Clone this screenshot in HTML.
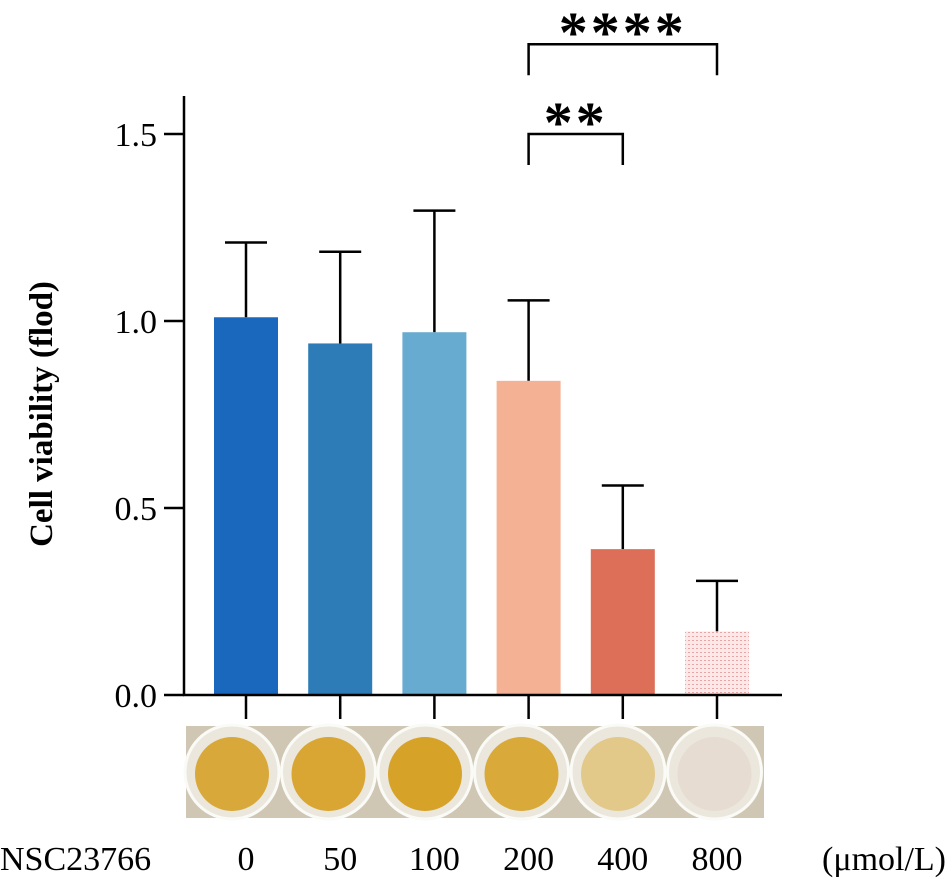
<!DOCTYPE html>
<html><head><meta charset="utf-8"><style>
body{margin:0;background:#fff;}
svg text{font-family:"Liberation Serif",serif;fill:#000;}
</style></head><body>
<svg width="948" height="884" viewBox="0 0 948 884" xmlns="http://www.w3.org/2000/svg">
<defs>
<pattern id="dots" width="4" height="4" patternUnits="userSpaceOnUse"><rect width="4" height="4" fill="#fbe8e8"/><rect width="2" height="1" fill="#e9a4a4"/></pattern>
</defs>
<g id="plot"></g>
<text x="52" y="414" font-size="33" font-weight="bold" text-anchor="middle" transform="rotate(-90 52 414)">Cell viability (flod)</text>
<script>
const categories=["0","50","100","200","400","800"];
const means=[1.01,0.94,0.97,0.84,0.39,0.17];
const errs=[0.20,0.245,0.325,0.215,0.17,0.135];
const colors=["#1a68bd","#2e7cb7","#68abd0","#f5b193","#dd6e57","url(#dots)"];
const wellColors=["#d8a93a","#d9a634","#d7a228","#d9aa3a","#e2c98a","#e6dcd2"];
const yTicks=[0,0.5,1.0,1.5];
const yTickLabels=["0.0","0.5","1.0","1.5"];
const sigs=[{a:3,b:4,label:"**",y:1.5},{a:3,b:5,label:"****",y:1.74}];
const NS="http://www.w3.org/2000/svg";
const g=document.getElementById('plot');
const y0=695,ppu=374,x0=246,step=94.2,bw=64;
const Y=v=>y0-v*ppu, X=i=>x0+i*step;
function mk(t,a){const e=document.createElementNS(NS,t);for(const k in a)e.setAttribute(k,a[k]);g.appendChild(e);return e;}
const ph=mk('rect',{x:186,y:726,width:578,height:92,fill:'#cfc7b3'});


categories.forEach((c,i)=>{
 const cx=232+i*96.5;
 const w=mk('circle',{cx:cx,cy:772,r:47,fill:'#ebe7dd',stroke:'#fafaf6','stroke-width':3});
 
 
 mk('circle',{cx:cx,cy:774,r:37,fill:wellColors[i]});
});
categories.forEach((c,i)=>{
 const x=X(i);
 const e=mk('line',{x1:x,x2:x,y1:Y(means[i]),y2:Y(means[i]+errs[i]),stroke:'#000','stroke-width':2.5});
 
 
 const cap=mk('line',{x1:x-21,x2:x+21,y1:Y(means[i]+errs[i]),y2:Y(means[i]+errs[i]),stroke:'#000','stroke-width':2.5});
 
 
 const b=mk('rect',{x:x-bw/2,y:Y(means[i]),width:bw,height:means[i]*ppu,fill:colors[i]});
 
 
 const t=mk('line',{x1:x,x2:x,y1:y0,y2:y0+24,stroke:'#000','stroke-width':2.5});
 
 
 const l=mk('text',{x:x,y:870,'font-size':34,'text-anchor':'middle'});l.textContent=c;
 
 
});
const ya=mk('line',{x1:184,x2:184,y1:96,y2:696,stroke:'#000','stroke-width':2.5});


const xa=mk('line',{x1:183,x2:782,y1:695,y2:695,stroke:'#000','stroke-width':2.5});


yTicks.forEach((v,i)=>{
 const t=mk('line',{x1:164,x2:184,y1:Y(v),y2:Y(v),stroke:'#000','stroke-width':2.5});
 
 
 const l=mk('text',{x:157,y:Y(v)+12,'font-size':34,'text-anchor':'end'});l.textContent=yTickLabels[i];
 
 
});
sigs.forEach(s=>{
 const xa_=X(s.a),xb=X(s.b),yy=Y(s.y);
 const p=mk('path',{d:`M${xa_},${yy+31}V${yy}H${xb}V${yy+31}`,fill:'none',stroke:'#000','stroke-width':2.5});
 
 
 const t=mk('text',{x:(xa_+xb)/2,y:yy+8,'font-size':58,'font-weight':'bold','text-anchor':'middle','letter-spacing':3});t.textContent=s.label;
 
 
});
const n=mk('text',{x:0,y:870,'font-size':34});n.textContent="NSC23766";


const u=mk('text',{x:946,y:870,'font-size':34,'text-anchor':'end'});u.textContent="(μmol/L)";


</script>
</svg>
</body></html>
